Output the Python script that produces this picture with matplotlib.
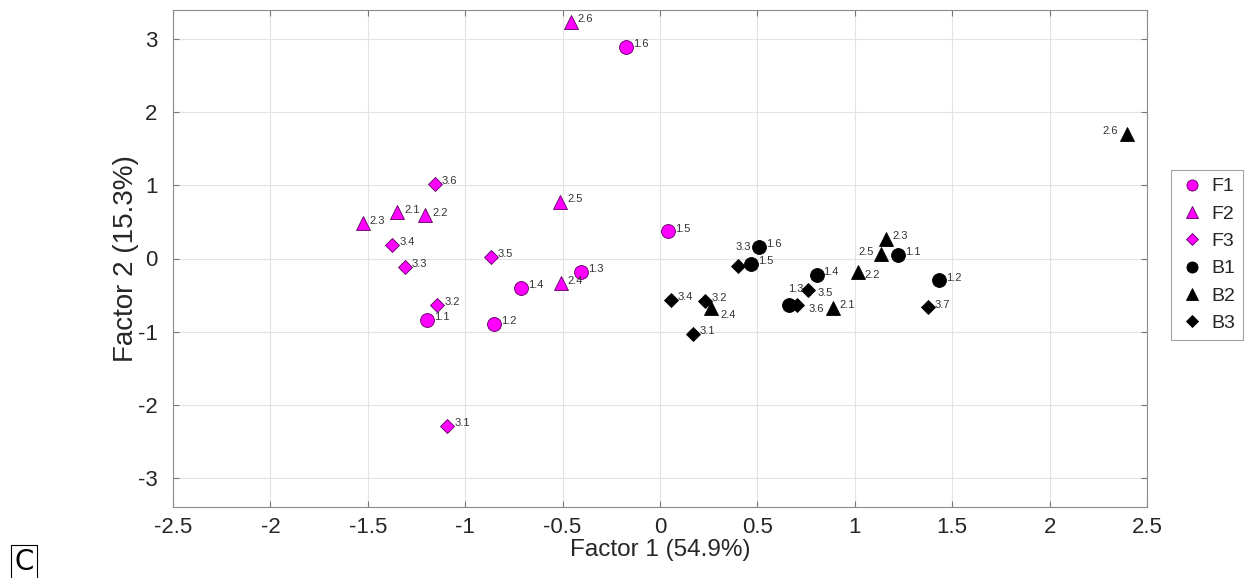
import matplotlib
matplotlib.use("Agg")
import matplotlib.pyplot as plt

plt.rcParams['font.family'] = ['Liberation Sans', 'DejaVu Sans']

# ---- data ----
f1_labels = ['1.1', '1.2', '1.3', '1.4', '1.5', '1.6']
f1_x = [-1.195, -0.852, -0.407, -0.714, 0.043, -0.175]
f1_y = [-0.84, -0.895, -0.18, -0.40, 0.37, 2.90]

f2_labels = ['2.1', '2.2', '2.3', '2.4', '2.5', '2.6']
f2_x = [-1.349, -1.206, -1.526, -0.51, -0.513, -0.459]
f2_y = [0.63, 0.59, 0.48, -0.34, 0.77, 3.24]

f3_labels = ['3.1', '3.2', '3.3', '3.4', '3.5', '3.6']
f3_x = [-1.092, -1.143, -1.309, -1.374, -0.869, -1.155]
f3_y = [-2.29, -0.63, -0.12, 0.19, 0.02, 1.02]

b1_labels = ['1.1', '1.2', '1.3', '1.4', '1.5', '1.6']
b1_x = [1.220, 1.434, 0.664, 0.804, 0.466, 0.510]
b1_y = [0.05, -0.30, -0.64, -0.22, -0.07, 0.155]

b2_labels = ['2.1', '2.2', '2.3', '2.4', '2.5', '2.6']
b2_x = [0.886, 1.016, 1.160, 0.262, 1.133, 2.396]
b2_y = [-0.675, -0.19, 0.27, -0.68, 0.055, 1.70]

b3_labels = ['3.1', '3.2', '3.3', '3.4', '3.5', '3.6', '3.7']
b3_x = [0.168, 0.231, 0.402, 0.056, 0.758, 0.705, 1.374]
b3_y = [-1.03, -0.575, -0.096, -0.566, -0.43, -0.64, -0.67]

x_ticks = [-2.5, -2, -1.5, -1, -0.5, 0, 0.5, 1, 1.5, 2, 2.5]
x_ticklabels = ['-2.5', '-2', '-1.5', '-1', '-0.5', '0', '0.5', '1', '1.5', '2', '2.5']
y_ticks = [-3, -2, -1, 0, 1, 2, 3]
y_ticklabels = ['-3', '-2', '-1', '0', '1', '2', '3']

x_label = 'Factor 1 (54.9%)'
y_label = 'Factor 2 (15.3%)'

# ---- style ----
MAG = '#ff00ff'
series = [
    ('F1', f1_x, f1_y, f1_labels, 'o', MAG, '#5a005a'),
    ('F2', f2_x, f2_y, f2_labels, '^', MAG, '#5a005a'),
    ('F3', f3_x, f3_y, f3_labels, 'D', MAG, '#5a005a'),
    ('B1', b1_x, b1_y, b1_labels, 'o', 'black', 'black'),
    ('B2', b2_x, b2_y, b2_labels, '^', 'black', 'black'),
    ('B3', b3_x, b3_y, b3_labels, 'D', 'black', 'black'),
]
marker_size = {'o': 10, '^': 10, 'D': 7.5}

# special label placements (offset points, ha)
special = {
    ('B3', '3.3'): ((9, 13), 'right'),
    ('B1', '1.3'): ((10, 12), 'right'),
    ('B2', '2.5'): ((-5, 2), 'right'),
    ('B2', '2.6'): ((-6, 2), 'right'),
    ('B2', '2.4'): ((7, -5), 'left'),
    ('B2', '2.2'): ((5, -2), 'left'),
    ('B3', '3.6'): ((8, -3), 'left'),
    ('B3', '3.5'): ((7, -2), 'left'),
}

fig = plt.figure(figsize=(12.48, 5.78), dpi=100)
ax = fig.add_axes([173 / 1248, 1 - 507 / 578, (1147 - 173) / 1248, (507 - 10) / 578])

for name, xs, ys, labs, mk, fc, ec in series:
    ax.plot(xs, ys, linestyle='none', marker=mk, markersize=marker_size[mk],
            markerfacecolor=fc, markeredgecolor=ec, markeredgewidth=0.6,
            label=name, zorder=3)
    for xv, yv, lb in zip(xs, ys, labs):
        off, ha = special.get((name, lb), ((5, 2), 'left'))
        ax.annotate(lb, (xv, yv), xytext=off, textcoords='offset points',
                    ha=ha, va='center', fontsize=8, color='#333333', zorder=4)

ax.set_xlim(-2.5, 2.5)
ax.set_ylim(-3.4, 3.4)
ax.set_xticks(x_ticks)
ax.set_xticklabels(x_ticklabels)
ax.set_yticks(y_ticks)
ax.set_yticklabels(y_ticklabels)
ax.grid(True, color='#e3e3e3', linewidth=0.8)
ax.set_axisbelow(True)
ax.tick_params(direction='in', length=4, width=0.8, color='#777777',
               labelsize=16, labelcolor='#262626', top=True, right=True)
ax.tick_params(axis='x', pad=7)
ax.tick_params(axis='y', pad=11)
for s in ax.spines.values():
    s.set_color('#8c8c8c')
    s.set_linewidth(0.8)
ax.set_xlabel(x_label, fontsize=17.5, color='#262626', labelpad=1)
ax.set_ylabel(y_label, fontsize=20, color='#262626')
ax.yaxis.set_label_coords(-(173 - 139) / 974, 0.5)

leg = fig.legend(loc='upper left', bbox_to_anchor=(1171 / 1248, 1 - 170 / 578),
                 fontsize=14, frameon=True, fancybox=False, edgecolor='#8c8c8c',
                 handletextpad=0.3, handlelength=1.4, labelspacing=0.5,
                 borderpad=0.4, markerscale=0.8, borderaxespad=0)
leg.get_frame().set_linewidth(0.8)
for t in leg.get_texts():
    t.set_color('#262626')

fig.text(14 / 1248, 2 / 578, 'C', fontsize=20, ha='left', va='bottom',
         fontfamily='DejaVu Sans',
         bbox=dict(boxstyle='square,pad=0.12', facecolor='white', edgecolor='black', linewidth=0.8))

fig.savefig('out.png', dpi=100)
